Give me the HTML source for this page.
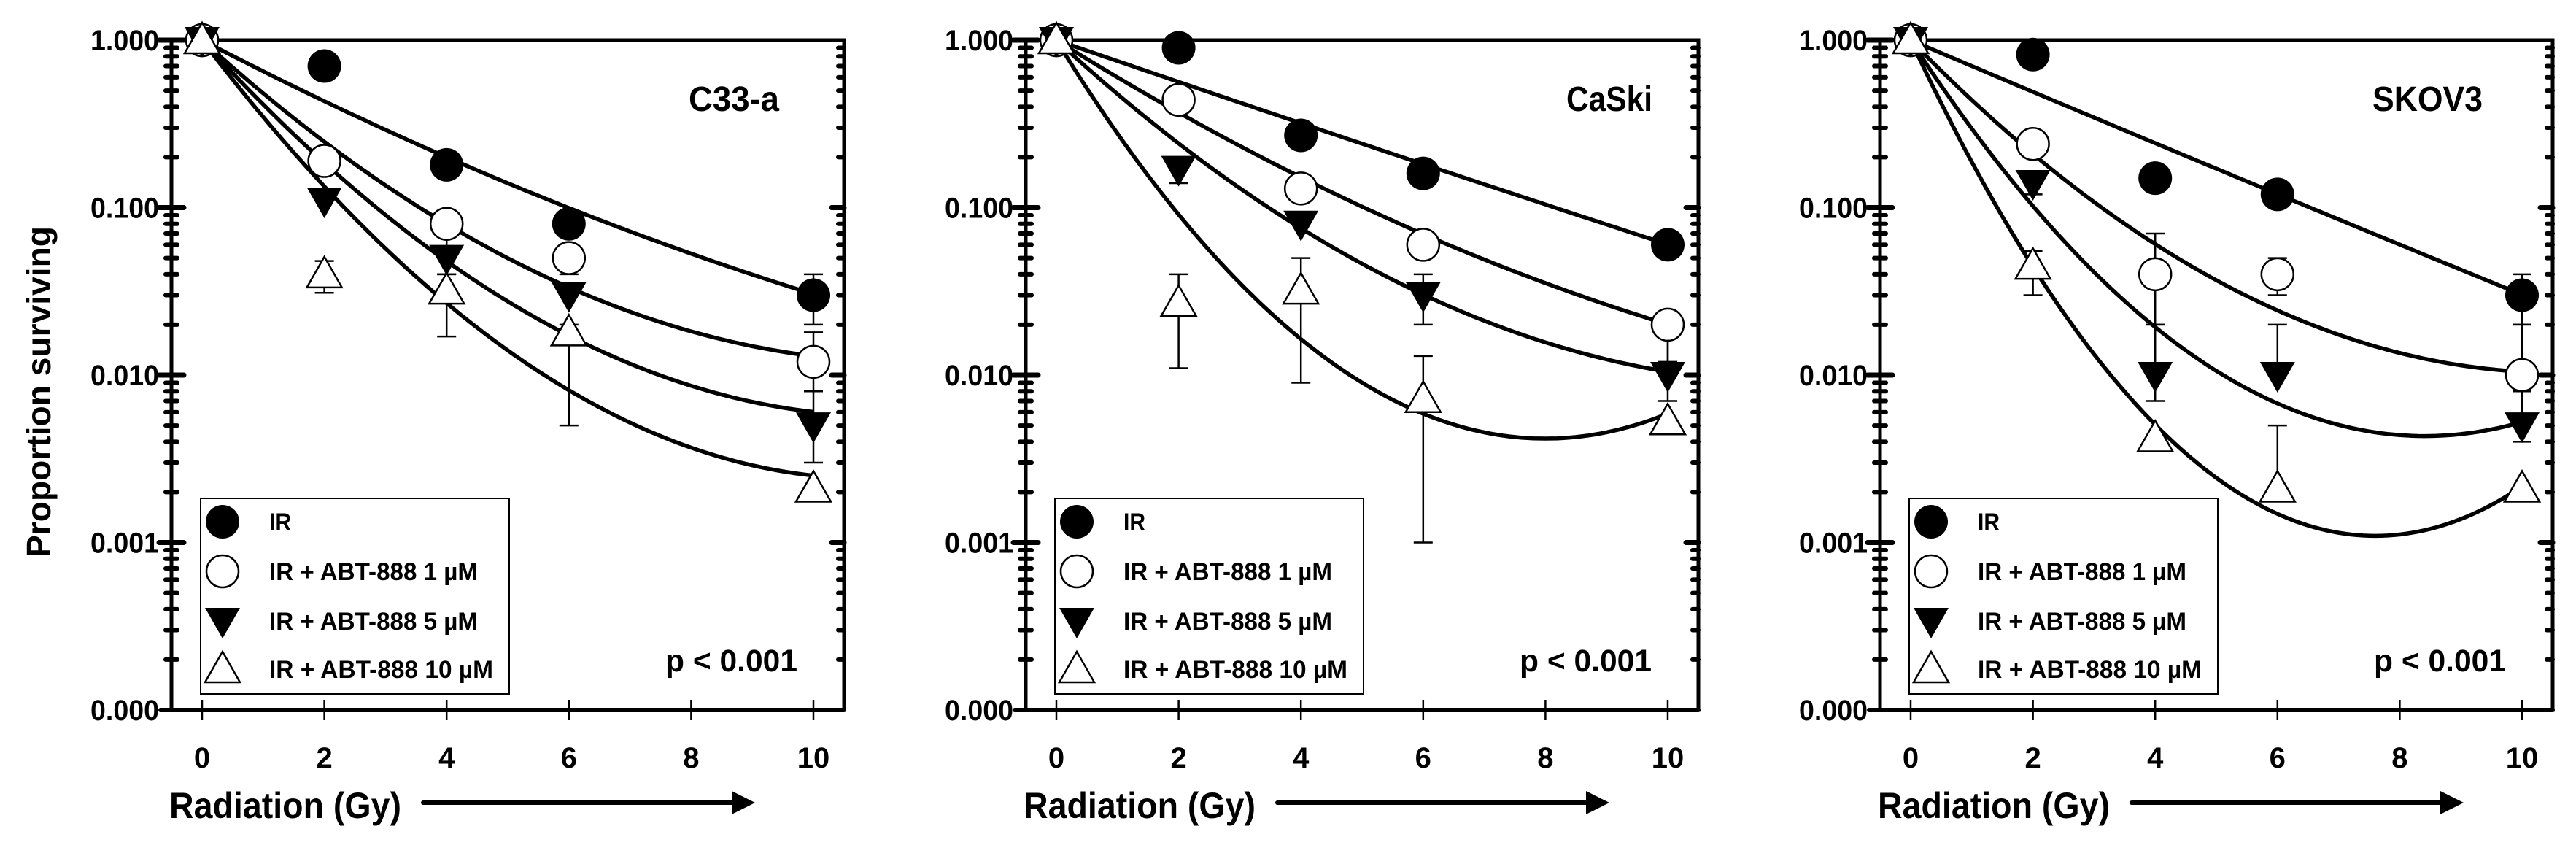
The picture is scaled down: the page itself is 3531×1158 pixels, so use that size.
<!DOCTYPE html>
<html><head><meta charset="utf-8"><style>
html,body{margin:0;padding:0;background:#fff;}
svg{display:block;font-family:"Liberation Sans",sans-serif;font-weight:bold;}
</style></head><body>
<svg id="fig" width="3531" height="1158" viewBox="0 0 3531 1158" xmlns="http://www.w3.org/2000/svg"></svg>
<script>
// ---- data ----
const doses = [0, 2, 4, 6, 10];
const panelNames = ["C33-a", "CaSki", "SKOV3"];
const seriesLabels = ["IR", "IR + ABT-888 1 \u00b5M", "IR + ABT-888 5 \u00b5M", "IR + ABT-888 10 \u00b5M"];
const yTickLabels = ["1.000", "0.100", "0.010", "0.001", "0.000"];
const xTickLabels = ["0", "2", "4", "6", "8", "10"];
// C33-a
const c33IR   = [1, 0.70, 0.18, 0.08, 0.030];
const c33ABT1 = [1, 0.19, 0.08, 0.05, 0.012];
const c33ABT5 = [1, 0.11, 0.05, 0.03, 0.005];
const c33ABT10= [1, 0.040, 0.032, 0.018, 0.0021];
// CaSki
const caskiIR   = [1, 0.90, 0.27, 0.16, 0.060];
const caskiABT1 = [1, 0.44, 0.13, 0.060, 0.020];
const caskiABT5 = [1, 0.17, 0.080, 0.030, 0.010];
const caskiABT10= [1, 0.027, 0.032, 0.0072, 0.0053];
// SKOV3
const skovIR   = [1, 0.82, 0.15, 0.12, 0.030];
const skovABT1 = [1, 0.24, 0.040, 0.040, 0.010];
const skovABT5 = [1, 0.14, 0.010, 0.010, 0.005];
const skovABT10= [1, 0.045, 0.0042, 0.0021, 0.0021];
// error bars [doseIndex, low, high]
const c33Err = [[[4,0.02,0.04]],[[3,0.04,0.05],[4,0.008,0.018]],[[2,0.04,0.07],[4,0.003,0.008]],[[1,0.031,0.048],[2,0.017,0.04],[3,0.005,0.02]]];
const caskiErr = [[],[[4,0.012,0.02]],[[1,0.14,0.2],[3,0.02,0.04],[4,0.007,0.02]],[[1,0.011,0.04],[2,0.009,0.05],[3,0.001,0.013]]];
const skovErr = [[[4,0.02,0.04]],[[2,0.02,0.07],[3,0.03,0.05],[4,0.008,0.02]],[[1,0.12,0.16],[2,0.007,0.02],[3,0.01,0.02],[4,0.004,0.008]],[[1,0.03,0.055],[3,0.002,0.005]]];
// LQ fit parameters: log10 S = -(alpha*D + beta*D^2)
const c33Alpha = [0.190, 0.332, 0.402, 0.481];
const c33Beta  = [-0.00383, -0.01433, -0.018, -0.0221];
const caskiAlpha = [0.1253, 0.228, 0.336, 0.595];
const caskiBeta  = [-0.00033, -0.00583, -0.0138, -0.0372];
const skovAlpha = [0.155, 0.3755, 0.562, 0.779];
const skovBeta  = [-0.0003, -0.01775, -0.0334, -0.05125];

const panels = [
  {series:[c33IR,c33ABT1,c33ABT5,c33ABT10], err:c33Err, alpha:c33Alpha, beta:c33Beta, ax:235, labelEnd:1068, labelW:124},
  {series:[caskiIR,caskiABT1,caskiABT5,caskiABT10], err:caskiErr, alpha:caskiAlpha, beta:caskiBeta, ax:1406, labelEnd:2265, labelW:118},
  {series:[skovIR,skovABT1,skovABT5,skovABT10], err:skovErr, alpha:skovAlpha, beta:skovBeta, ax:2577, labelEnd:3403, labelW:151}
];

const NS = "http://www.w3.org/2000/svg";
const svg = document.getElementById("fig");
function mk(tag, attrs, parent){const e=document.createElementNS(NS,tag);for(const k in attrs)e.setAttribute(k,attrs[k]);(parent||svg).appendChild(e);return e;}

const TOP = 55, DEC = 229.5, PERGY = 83.8;
function yS(v){return TOP - Math.log10(v)*DEC;}

function marker(g, type, cx, cy){
  let e;
  if(type===0){e=mk("circle",{cx:cx,cy:cy,r:23,fill:"#000"},g);}
  else if(type===1){e=mk("circle",{cx:cx,cy:cy,r:22,fill:"#fff",stroke:"#000","stroke-width":2.5},g);}
  else if(type===2){e=mk("polygon",{points:`${cx-24},${cy-18} ${cx+24},${cy-18} ${cx},${cy+24}`,fill:"#000"},g);}
  else {e=mk("polygon",{points:`${cx-24},${cy+18} ${cx+24},${cy+18} ${cx},${cy-24}`,fill:"#fff",stroke:"#000","stroke-width":2.5},g);}
  return e;
}

panels.forEach((p, pi) => {
  const ax = p.ax, x0 = ax + 42, right = ax + 922, bottom = TOP + 4*DEC;
  const xS = d => x0 + d*PERGY;
  const g = mk("g",{});
  
  
  const fr = mk("rect",{x:ax,y:TOP,width:right-ax,height:bottom-TOP,fill:"none",stroke:"#000","stroke-width":5},g);
  
  
  const xa = mk("line",{x1:ax-15,y1:bottom,x2:right,y2:bottom,stroke:"#000","stroke-width":6,"stroke-linecap":"round"},g);
  
  
  for(let dec=0; dec<4; dec++){
    for(let m=1; m<=9; m++){
      const v = Math.pow(10,-dec-1)*m;
      const yy = yS(v);
      const major = (m===1);
      if(major && dec===3) continue;
      mk("line",{x1:ax-(major?17:8),y1:yy,x2:ax+(major?17:8),y2:yy,stroke:"#000","stroke-width":major?7:6,"stroke-linecap":"round"},g);
      mk("line",{x1:right-(major?17:8),y1:yy,x2:right,y2:yy,stroke:"#000","stroke-width":major?7:6,"stroke-linecap":"round"},g);
    }
  }
  mk("line",{x1:ax-17,y1:TOP,x2:ax+17,y2:TOP,stroke:"#000","stroke-width":7,"stroke-linecap":"round"},g);
  yTickLabels.forEach((t,i)=>{
    const e = mk("text",{x:ax-111,y:TOP+i*DEC+14,"font-size":40,textLength:94,lengthAdjust:"spacingAndGlyphs"},g);
    e.textContent = t;
    
    
  });
  xTickLabels.forEach((t,i)=>{
    const d = +t, xx = xS(d);
    mk("line",{x1:xx,y1:bottom-14,x2:xx,y2:bottom+14,stroke:"#000","stroke-width":2.5},g);
    const e = mk("text",{x:xx,y:1052,"font-size":40,"text-anchor":"middle"},g);
    e.textContent = t;
    
    
  });
  const xt = mk("text",{x:ax-3,y:1121,"font-size":50,textLength:318,lengthAdjust:"spacingAndGlyphs"},g);
  xt.textContent = "Radiation (Gy)";
  
  
  const ar = mk("g",{},g);
  
  
  mk("line",{x1:ax+345,y1:1100,x2:ax+770,y2:1100,stroke:"#000","stroke-width":6,"stroke-linecap":"round"},ar);
  mk("polygon",{points:`${ax+768},${1084} ${ax+800},${1100} ${ax+768},${1116}`,fill:"#000"},ar);
  p.alpha.forEach((a,si)=>{
    const b = p.beta[si]; let dstr="";
    for(let k=0;k<=100;k++){const D=k/10; const ls=-(a*D+b*D*D); dstr+=(k?"L":"M")+xS(D).toFixed(1)+","+(TOP-ls*DEC).toFixed(1);}
    const c = mk("path",{d:dstr,fill:"none",stroke:"#000","stroke-width":5.5},g);
    
    
  });
  p.err.forEach((list,si)=>{
    list.forEach(e=>{
      const xx = xS(doses[e[0]]);
      const eb = mk("g",{},g);
      
      
      mk("line",{x1:xx,y1:yS(e[1]),x2:xx,y2:yS(e[2]),stroke:"#000","stroke-width":2.5},eb);
      mk("line",{x1:xx-13,y1:yS(e[1]),x2:xx+13,y2:yS(e[1]),stroke:"#000","stroke-width":2.5},eb);
      mk("line",{x1:xx-13,y1:yS(e[2]),x2:xx+13,y2:yS(e[2]),stroke:"#000","stroke-width":2.5},eb);
    });
  });
  p.series.forEach((vals,si)=>{
    vals.forEach((v,di)=>{
      const m = marker(g, si, xS(doses[di]), yS(v));
      
      
    });
  });
  const lg = mk("g",{},g);
  
  
  mk("rect",{x:ax+40,y:683,width:423,height:268,fill:"#fff",stroke:"#000","stroke-width":2},lg);
  const rows=[715,783,851,917], widths=[30,286,286,307];
  seriesLabels.forEach((lab,si)=>{
    const ent = mk("g",{},lg);
    
    
    marker(ent, si, ax+70, rows[si]);
    const t = mk("text",{x:ax+134,y:rows[si]+12,"font-size":34,textLength:widths[si],lengthAdjust:"spacingAndGlyphs"},ent);
    t.textContent = lab;
  });
  const cl = mk("text",{x:p.labelEnd-p.labelW,y:152,"font-size":48,textLength:p.labelW,lengthAdjust:"spacingAndGlyphs"},g);
  cl.textContent = panelNames[pi];
  
  
  const pv = mk("text",{x:ax+677,y:920,"font-size":43,textLength:181,lengthAdjust:"spacingAndGlyphs"},g);
  pv.textContent = "p < 0.001";
  
  
});
const yt = mk("text",{x:0,y:0,"font-size":46,"text-anchor":"middle",transform:"translate(69,537) rotate(-90)",textLength:454,lengthAdjust:"spacingAndGlyphs"});
yt.textContent = "Proportion surviving";


</script>
</body></html>
